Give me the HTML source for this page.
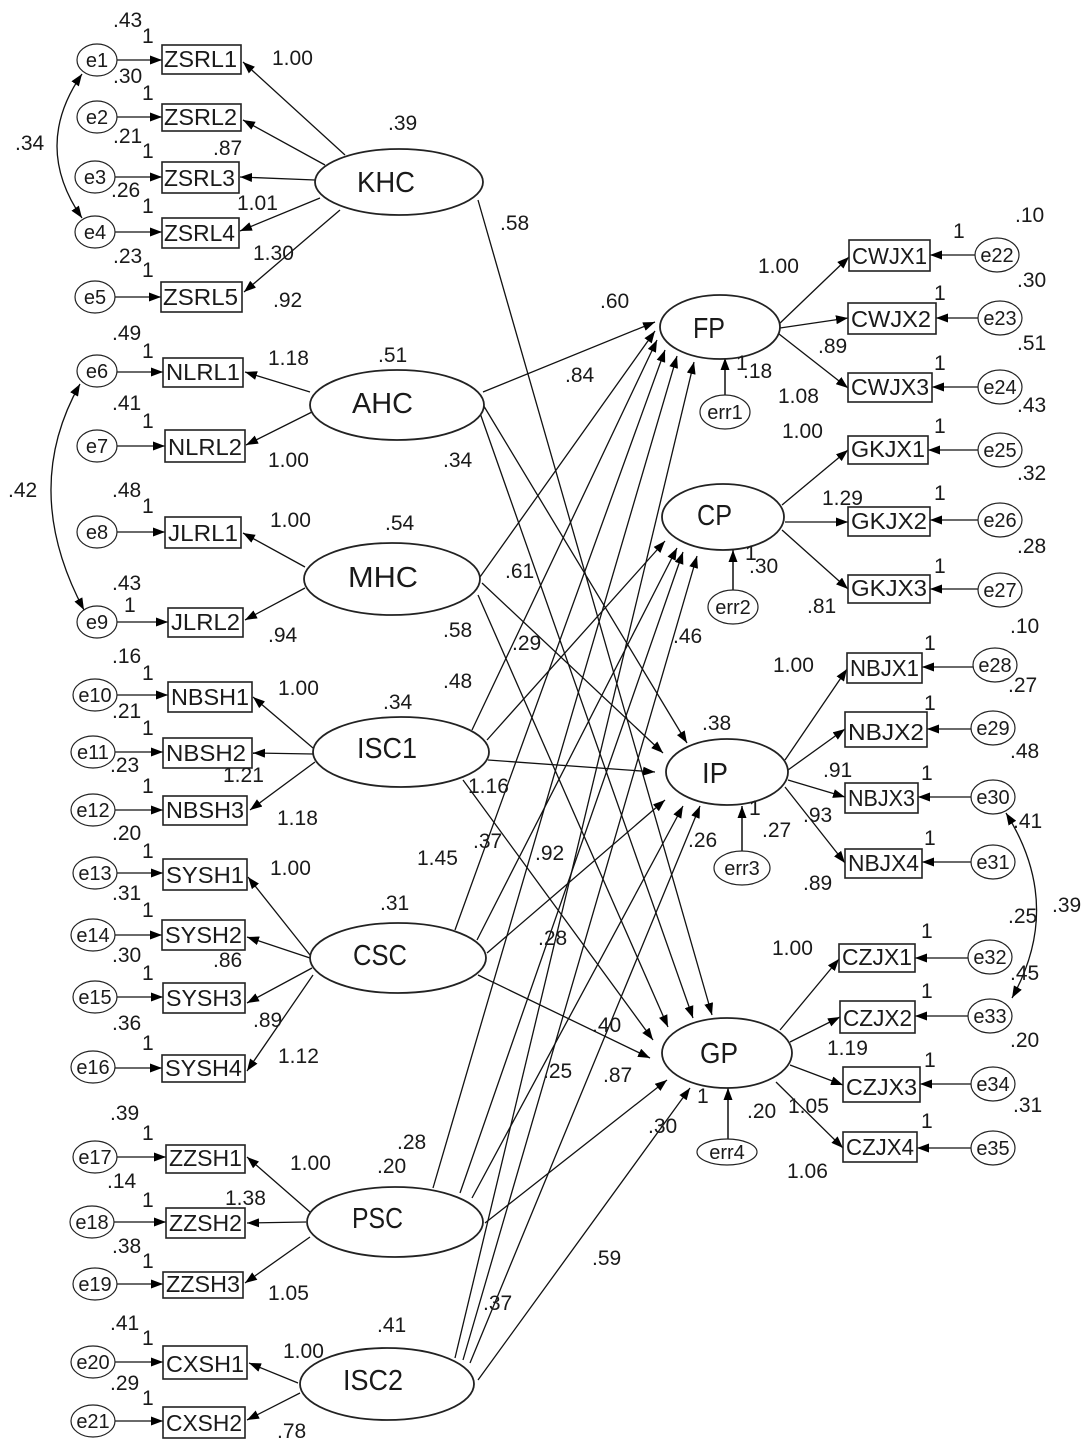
<!DOCTYPE html>
<html><head><meta charset="utf-8"><style>
html,body{margin:0;padding:0;background:#fff;}
svg{display:block;}
text{font-family:"Liberation Sans",Arial,sans-serif;fill:#1a1a1a;}
.n{font-size:21px;}
.b{font-size:23px;}
.L{font-size:29px;}
.e{font-size:20px;}
</style></head><body>
<svg width="1085" height="1444" viewBox="0 0 1085 1444" xmlns="http://www.w3.org/2000/svg">
<defs>
<marker id="a" viewBox="0 0 12 9" refX="12" refY="4.5" markerWidth="12" markerHeight="9" markerUnits="userSpaceOnUse" orient="auto"><path d="M0,0L12,4.5L0,9z" fill="#000"/></marker>
<marker id="s" viewBox="0 0 12 9" refX="12" refY="4.5" markerWidth="12" markerHeight="9" markerUnits="userSpaceOnUse" orient="auto-start-reverse"><path d="M0,0L12,4.5L0,9z" fill="#000"/></marker>
</defs>
<rect width="1085" height="1444" fill="#fff"/>

<!-- Structural paths -->
<g stroke="#111" stroke-width="1.3" fill="none" marker-end="url(#a)">
<line x1="478" y1="200" x2="712" y2="1015"/>
<line x1="483" y1="392" x2="655" y2="322"/>
<line x1="482" y1="403" x2="687" y2="743"/>
<line x1="480" y1="413" x2="693" y2="1018"/>
<line x1="480" y1="577" x2="655" y2="331"/>
<line x1="482" y1="583" x2="663" y2="753"/>
<line x1="478" y1="595" x2="668" y2="1027"/>
<line x1="472" y1="730" x2="657" y2="340"/>
<line x1="487" y1="740" x2="665" y2="541"/>
<line x1="488" y1="760" x2="655" y2="772"/>
<line x1="463" y1="780" x2="653" y2="1040"/>
<line x1="455" y1="930" x2="665" y2="350"/>
<line x1="477" y1="940" x2="677" y2="548"/>
<line x1="487" y1="953" x2="665" y2="800"/>
<line x1="478" y1="975" x2="650" y2="1058"/>
<line x1="433" y1="1188" x2="677" y2="356"/>
<line x1="460" y1="1193" x2="683" y2="552"/>
<line x1="472" y1="1198" x2="683" y2="806"/>
<line x1="485" y1="1223" x2="667" y2="1080"/>
<line x1="455" y1="1358" x2="694" y2="362"/>
<line x1="463" y1="1360" x2="697" y2="556"/>
<line x1="470" y1="1363" x2="700" y2="806"/>
<line x1="478" y1="1380" x2="690" y2="1088"/>
</g>

<!-- Loadings left -->
<g stroke="#111" stroke-width="1.3" fill="none" marker-end="url(#a)">
<line x1="345" y1="155" x2="243" y2="62"/>
<line x1="325" y1="165" x2="243" y2="120"/>
<line x1="315" y1="180" x2="240" y2="177"/>
<line x1="320" y1="198" x2="240" y2="231"/>
<line x1="340" y1="210" x2="244" y2="292"/>
<line x1="310" y1="392" x2="245" y2="372"/>
<line x1="312" y1="412" x2="246" y2="445"/>
<line x1="305" y1="567" x2="243" y2="533"/>
<line x1="305" y1="588" x2="245" y2="620"/>
<line x1="313" y1="748" x2="253" y2="697"/>
<line x1="313" y1="754" x2="253" y2="753"/>
<line x1="315" y1="762" x2="250" y2="810"/>
<line x1="310" y1="955" x2="248" y2="877"/>
<line x1="310" y1="958" x2="247" y2="937"/>
<line x1="312" y1="968" x2="247" y2="1003"/>
<line x1="313" y1="975" x2="247" y2="1071"/>
<line x1="310" y1="1212" x2="247" y2="1157"/>
<line x1="306" y1="1222" x2="247" y2="1223"/>
<line x1="310" y1="1237" x2="245" y2="1283"/>
<line x1="298" y1="1383" x2="249" y2="1363"/>
<line x1="300" y1="1393" x2="247" y2="1420"/>
</g>

<!-- Loadings right -->
<g stroke="#111" stroke-width="1.3" fill="none" marker-end="url(#a)">
<line x1="778" y1="325" x2="849" y2="257"/>
<line x1="780" y1="328" x2="848" y2="318"/>
<line x1="779" y1="334" x2="848" y2="388"/>
<line x1="782" y1="505" x2="848" y2="450"/>
<line x1="785" y1="522" x2="848" y2="522"/>
<line x1="782" y1="530" x2="848" y2="589"/>
<line x1="785" y1="760" x2="847" y2="669"/>
<line x1="788" y1="770" x2="845" y2="729"/>
<line x1="788" y1="780" x2="845" y2="797"/>
<line x1="785" y1="787" x2="845" y2="863"/>
<line x1="780" y1="1030" x2="839" y2="959"/>
<line x1="790" y1="1042" x2="840" y2="1017"/>
<line x1="790" y1="1065" x2="843" y2="1085"/>
<line x1="776" y1="1082" x2="843" y2="1148"/>
</g>

<!-- error arrows left -->
<g stroke="#111" stroke-width="1.3" fill="none" marker-end="url(#a)">
<line x1="117" y1="60" x2="162" y2="60"/>
<line x1="117" y1="117" x2="162" y2="117"/>
<line x1="115" y1="177" x2="162" y2="177"/>
<line x1="115" y1="232" x2="162" y2="232"/>
<line x1="115" y1="297" x2="161" y2="297"/>
<line x1="117" y1="372" x2="163" y2="372"/>
<line x1="117" y1="446" x2="165" y2="446"/>
<line x1="117" y1="532" x2="165" y2="532"/>
<line x1="117" y1="622" x2="168" y2="622"/>
<line x1="117" y1="695" x2="168" y2="695"/>
<line x1="115" y1="752" x2="163" y2="752"/>
<line x1="115" y1="810" x2="163" y2="810"/>
<line x1="117" y1="873" x2="163" y2="873"/>
<line x1="115" y1="935" x2="162" y2="935"/>
<line x1="117" y1="997" x2="163" y2="997"/>
<line x1="115" y1="1068" x2="162" y2="1068"/>
<line x1="117" y1="1157" x2="166" y2="1157"/>
<line x1="114" y1="1222" x2="166" y2="1222"/>
<line x1="117" y1="1284" x2="163" y2="1284"/>
<line x1="115" y1="1362" x2="163" y2="1362"/>
<line x1="115" y1="1421" x2="163" y2="1421"/>
</g>
<!-- error arrows right -->
<g stroke="#111" stroke-width="1.3" fill="none" marker-end="url(#a)">
<line x1="975" y1="255" x2="930" y2="255"/>
<line x1="978" y1="318" x2="936" y2="318"/>
<line x1="978" y1="387" x2="932" y2="387"/>
<line x1="978" y1="450" x2="928" y2="450"/>
<line x1="978" y1="520" x2="930" y2="520"/>
<line x1="978" y1="589" x2="930" y2="589"/>
<line x1="973" y1="667" x2="922" y2="667"/>
<line x1="971" y1="729" x2="927" y2="729"/>
<line x1="971" y1="797" x2="918" y2="797"/>
<line x1="971" y1="862" x2="922" y2="862"/>
<line x1="968" y1="958" x2="915" y2="958"/>
<line x1="968" y1="1016" x2="915" y2="1016"/>
<line x1="971" y1="1084" x2="920" y2="1084"/>
<line x1="971" y1="1148" x2="917" y2="1148"/>
</g>
<!-- err arrows -->
<g stroke="#111" stroke-width="1.5" fill="none" marker-end="url(#a)">
<line x1="725" y1="395" x2="725" y2="358"/>
<line x1="733" y1="590" x2="733" y2="550"/>
<line x1="742" y1="851" x2="742" y2="806"/>
<line x1="728" y1="1139" x2="728" y2="1088"/>
</g>

<!-- covariances -->
<g stroke="#111" stroke-width="1.3" fill="none" marker-start="url(#s)" marker-end="url(#a)">
<path d="M82,74 Q32,146 82,218"/>
<path d="M80,384 Q20,490 84,610"/>
<path d="M1006,813 Q1064,905 1012,998"/>
</g>

<!-- latent ellipses -->
<g fill="#fff" stroke="#222" stroke-width="1.8">
<ellipse cx="399" cy="182" rx="84" ry="33"/>
<ellipse cx="397" cy="405" rx="87" ry="35"/>
<ellipse cx="392" cy="579" rx="88" ry="36"/>
<ellipse cx="401" cy="752" rx="88" ry="35"/>
<ellipse cx="398" cy="958" rx="88" ry="35"/>
<ellipse cx="395" cy="1222" rx="88" ry="35"/>
<ellipse cx="387" cy="1384" rx="87" ry="36"/>
<ellipse cx="720" cy="327" rx="60" ry="32"/>
<ellipse cx="723" cy="517" rx="61" ry="33"/>
<ellipse cx="727" cy="772" rx="61" ry="33"/>
<ellipse cx="727" cy="1053" rx="65" ry="35"/>
</g>
<g class="L">
<text x="357" y="192" textLength="58" lengthAdjust="spacingAndGlyphs">KHC</text>
<text x="352" y="413" textLength="61" lengthAdjust="spacingAndGlyphs">AHC</text>
<text x="348" y="587" textLength="70" lengthAdjust="spacingAndGlyphs">MHC</text>
<text x="357" y="758" textLength="60" lengthAdjust="spacingAndGlyphs">ISC1</text>
<text x="353" y="965" textLength="54" lengthAdjust="spacingAndGlyphs">CSC</text>
<text x="352" y="1228" textLength="51" lengthAdjust="spacingAndGlyphs">PSC</text>
<text x="343" y="1390" textLength="60" lengthAdjust="spacingAndGlyphs">ISC2</text>
<text x="693" y="338" textLength="32" lengthAdjust="spacingAndGlyphs">FP</text>
<text x="697" y="525" textLength="35" lengthAdjust="spacingAndGlyphs">CP</text>
<text x="702" y="783" textLength="26" lengthAdjust="spacingAndGlyphs">IP</text>
<text x="700" y="1063" textLength="38" lengthAdjust="spacingAndGlyphs">GP</text>
</g>

<!-- error ellipses -->
<g fill="#fff" stroke="#222" stroke-width="1.2">
<ellipse cx="97" cy="60" rx="20" ry="16"/>
<ellipse cx="97" cy="117" rx="20" ry="16"/>
<ellipse cx="95" cy="177" rx="20" ry="16"/>
<ellipse cx="95" cy="232" rx="20" ry="16"/>
<ellipse cx="95" cy="297" rx="20" ry="16"/>
<ellipse cx="97" cy="371" rx="20" ry="16"/>
<ellipse cx="97" cy="446" rx="20" ry="16"/>
<ellipse cx="97" cy="532" rx="20" ry="16"/>
<ellipse cx="97" cy="622" rx="20" ry="16"/>
<ellipse cx="95" cy="695" rx="22" ry="16"/>
<ellipse cx="93" cy="752" rx="22" ry="16"/>
<ellipse cx="93" cy="810" rx="22" ry="16"/>
<ellipse cx="95" cy="873" rx="22" ry="16"/>
<ellipse cx="93" cy="935" rx="22" ry="16"/>
<ellipse cx="95" cy="997" rx="22" ry="16"/>
<ellipse cx="93" cy="1067" rx="22" ry="16"/>
<ellipse cx="95" cy="1157" rx="22" ry="16"/>
<ellipse cx="92" cy="1222" rx="22" ry="16"/>
<ellipse cx="95" cy="1284" rx="22" ry="16"/>
<ellipse cx="93" cy="1362" rx="22" ry="16"/>
<ellipse cx="93" cy="1421" rx="22" ry="16"/>
<ellipse cx="997" cy="255" rx="22" ry="17"/>
<ellipse cx="1000" cy="318" rx="22" ry="17"/>
<ellipse cx="1000" cy="387" rx="22" ry="17"/>
<ellipse cx="1000" cy="450" rx="22" ry="17"/>
<ellipse cx="1000" cy="520" rx="22" ry="17"/>
<ellipse cx="1000" cy="590" rx="22" ry="17"/>
<ellipse cx="995" cy="665" rx="22" ry="17"/>
<ellipse cx="993" cy="728" rx="22" ry="17"/>
<ellipse cx="993" cy="797" rx="22" ry="17"/>
<ellipse cx="993" cy="862" rx="22" ry="17"/>
<ellipse cx="990" cy="957" rx="22" ry="17"/>
<ellipse cx="990" cy="1016" rx="22" ry="17"/>
<ellipse cx="993" cy="1084" rx="22" ry="17"/>
<ellipse cx="993" cy="1148" rx="22" ry="17"/>
<ellipse cx="725" cy="412" rx="25" ry="17"/>
<ellipse cx="733" cy="607" rx="25" ry="17"/>
<ellipse cx="742" cy="868" rx="28" ry="17"/>
<ellipse cx="727" cy="1152" rx="30" ry="13"/>
</g>
<g class="e" text-anchor="middle">
<text x="97" y="67">e1</text><text x="97" y="124">e2</text><text x="95" y="184">e3</text><text x="95" y="239">e4</text><text x="95" y="304">e5</text>
<text x="97" y="378">e6</text><text x="97" y="453">e7</text><text x="97" y="539">e8</text><text x="97" y="629">e9</text>
<text x="95" y="702">e10</text><text x="93" y="759">e11</text><text x="93" y="817">e12</text><text x="95" y="880">e13</text><text x="93" y="942">e14</text><text x="95" y="1004">e15</text><text x="93" y="1074">e16</text>
<text x="95" y="1164">e17</text><text x="92" y="1229">e18</text><text x="95" y="1291">e19</text><text x="93" y="1369">e20</text><text x="93" y="1428">e21</text>
<text x="997" y="262">e22</text><text x="1000" y="325">e23</text><text x="1000" y="394">e24</text><text x="1000" y="457">e25</text><text x="1000" y="527">e26</text><text x="1000" y="597">e27</text>
<text x="995" y="672">e28</text><text x="993" y="735">e29</text><text x="993" y="804">e30</text><text x="993" y="869">e31</text>
<text x="990" y="964">e32</text><text x="990" y="1023">e33</text><text x="993" y="1091">e34</text><text x="993" y="1155">e35</text>
<text x="725" y="419">err1</text><text x="733" y="614">err2</text><text x="742" y="875">err3</text><text x="727" y="1159">err4</text>
</g>

<!-- indicator boxes -->
<g fill="#fff" stroke="#222" stroke-width="1.6">
<rect x="162" y="45" width="79" height="29"/>
<rect x="162" y="104" width="79" height="27"/>
<rect x="162" y="162" width="77" height="31"/>
<rect x="162" y="218" width="77" height="30"/>
<rect x="161" y="282" width="81" height="30"/>
<rect x="163" y="358" width="80" height="29"/>
<rect x="165" y="430" width="80" height="32"/>
<rect x="165" y="517" width="76" height="31"/>
<rect x="168" y="608" width="75" height="29"/>
<rect x="168" y="682" width="84" height="30"/>
<rect x="163" y="738" width="89" height="30"/>
<rect x="163" y="796" width="84" height="29"/>
<rect x="163" y="859" width="84" height="31"/>
<rect x="162" y="920" width="83" height="30"/>
<rect x="163" y="983" width="82" height="30"/>
<rect x="162" y="1055" width="83" height="27"/>
<rect x="166" y="1145" width="79" height="28"/>
<rect x="166" y="1208" width="79" height="30"/>
<rect x="163" y="1272" width="80" height="26"/>
<rect x="163" y="1346" width="84" height="33"/>
<rect x="163" y="1407" width="82" height="31"/>
<rect x="849" y="240" width="81" height="31"/>
<rect x="848" y="303" width="88" height="31"/>
<rect x="848" y="373" width="84" height="29"/>
<rect x="848" y="436" width="80" height="28"/>
<rect x="848" y="507" width="82" height="29"/>
<rect x="848" y="575" width="82" height="28"/>
<rect x="847" y="653" width="75" height="30"/>
<rect x="845" y="712" width="82" height="35"/>
<rect x="845" y="783" width="73" height="30"/>
<rect x="845" y="849" width="77" height="29"/>
<rect x="839" y="944" width="76" height="28"/>
<rect x="840" y="1001" width="75" height="32"/>
<rect x="843" y="1067" width="77" height="35"/>
<rect x="843" y="1132" width="74" height="30"/>
</g>
<g class="b">
<text x="164" y="67" textLength="73" lengthAdjust="spacingAndGlyphs">ZSRL1</text>
<text x="164" y="125" textLength="73" lengthAdjust="spacingAndGlyphs">ZSRL2</text>
<text x="164" y="186" textLength="71" lengthAdjust="spacingAndGlyphs">ZSRL3</text>
<text x="164" y="241" textLength="71" lengthAdjust="spacingAndGlyphs">ZSRL4</text>
<text x="163" y="305" textLength="75" lengthAdjust="spacingAndGlyphs">ZSRL5</text>
<text x="166" y="380" textLength="74" lengthAdjust="spacingAndGlyphs">NLRL1</text>
<text x="168" y="455" textLength="74" lengthAdjust="spacingAndGlyphs">NLRL2</text>
<text x="168" y="541" textLength="70" lengthAdjust="spacingAndGlyphs">JLRL1</text>
<text x="171" y="630" textLength="69" lengthAdjust="spacingAndGlyphs">JLRL2</text>
<text x="171" y="705" textLength="78" lengthAdjust="spacingAndGlyphs">NBSH1</text>
<text x="166" y="761" textLength="80" lengthAdjust="spacingAndGlyphs">NBSH2</text>
<text x="166" y="818" textLength="78" lengthAdjust="spacingAndGlyphs">NBSH3</text>
<text x="166" y="883" textLength="78" lengthAdjust="spacingAndGlyphs">SYSH1</text>
<text x="165" y="943" textLength="77" lengthAdjust="spacingAndGlyphs">SYSH2</text>
<text x="166" y="1006" textLength="76" lengthAdjust="spacingAndGlyphs">SYSH3</text>
<text x="165" y="1076" textLength="77" lengthAdjust="spacingAndGlyphs">SYSH4</text>
<text x="169" y="1166" textLength="73" lengthAdjust="spacingAndGlyphs">ZZSH1</text>
<text x="169" y="1231" textLength="73" lengthAdjust="spacingAndGlyphs">ZZSH2</text>
<text x="166" y="1292" textLength="74" lengthAdjust="spacingAndGlyphs">ZZSH3</text>
<text x="166" y="1372" textLength="78" lengthAdjust="spacingAndGlyphs">CXSH1</text>
<text x="166" y="1431" textLength="76" lengthAdjust="spacingAndGlyphs">CXSH2</text>
<text x="852" y="264" textLength="75" lengthAdjust="spacingAndGlyphs">CWJX1</text>
<text x="851" y="327" textLength="80" lengthAdjust="spacingAndGlyphs">CWJX2</text>
<text x="851" y="395" textLength="78" lengthAdjust="spacingAndGlyphs">CWJX3</text>
<text x="851" y="457" textLength="74" lengthAdjust="spacingAndGlyphs">GKJX1</text>
<text x="851" y="529" textLength="76" lengthAdjust="spacingAndGlyphs">GKJX2</text>
<text x="851" y="596" textLength="76" lengthAdjust="spacingAndGlyphs">GKJX3</text>
<text x="850" y="676" textLength="69" lengthAdjust="spacingAndGlyphs">NBJX1</text>
<text x="848" y="740" textLength="76" lengthAdjust="spacingAndGlyphs">NBJX2</text>
<text x="848" y="806" textLength="67" lengthAdjust="spacingAndGlyphs">NBJX3</text>
<text x="848" y="871" textLength="71" lengthAdjust="spacingAndGlyphs">NBJX4</text>
<text x="842" y="965" textLength="70" lengthAdjust="spacingAndGlyphs">CZJX1</text>
<text x="843" y="1026" textLength="69" lengthAdjust="spacingAndGlyphs">CZJX2</text>
<text x="846" y="1095" textLength="71" lengthAdjust="spacingAndGlyphs">CZJX3</text>
<text x="846" y="1155" textLength="68" lengthAdjust="spacingAndGlyphs">CZJX4</text>
</g>

<!-- numeric labels -->
<g class="n">
<text x="113" y="27">.43</text><text x="142" y="43">1</text>
<text x="113" y="83">.30</text><text x="142" y="100">1</text>
<text x="113" y="143">.21</text><text x="142" y="158">1</text>
<text x="111" y="197">.26</text><text x="142" y="213">1</text>
<text x="113" y="263">.23</text><text x="142" y="277">1</text>
<text x="15" y="150">.34</text>
<text x="272" y="65">1.00</text>
<text x="213" y="155">.87</text>
<text x="237" y="210">1.01</text>
<text x="253" y="260">1.30</text>
<text x="273" y="307">.92</text>
<text x="388" y="130">.39</text>
<text x="500" y="230">.58</text>
<text x="112" y="340">.49</text><text x="142" y="358">1</text>
<text x="112" y="410">.41</text><text x="142" y="428">1</text>
<text x="112" y="497">.48</text><text x="142" y="513">1</text>
<text x="112" y="590">.43</text><text x="124" y="612">1</text>
<text x="8" y="497">.42</text>
<text x="268" y="365">1.18</text>
<text x="268" y="467">1.00</text>
<text x="270" y="527">1.00</text>
<text x="268" y="642">.94</text>
<text x="378" y="362">.51</text>
<text x="385" y="530">.54</text>
<text x="443" y="467">.34</text>
<text x="443" y="637">.58</text>
<text x="600" y="308">.60</text>
<text x="565" y="382">.84</text>
<text x="505" y="578">.61</text>
<text x="512" y="650">.29</text>
<text x="673" y="643">.46</text>
<text x="443" y="688">.48</text>
<text x="383" y="709">.34</text>
<text x="702" y="730">.38</text>
<text x="468" y="793">1.16</text>
<text x="473" y="848">.37</text>
<text x="417" y="865">1.45</text>
<text x="535" y="860">.92</text>
<text x="688" y="847">.26</text>
<text x="380" y="910">.31</text>
<text x="538" y="945">.28</text>
<text x="592" y="1032">.40</text>
<text x="543" y="1078">.25</text>
<text x="603" y="1082">.87</text>
<text x="648" y="1133">.30</text>
<text x="592" y="1265">.59</text>
<text x="483" y="1310">.37</text>
<text x="397" y="1149">.28</text>
<text x="377" y="1173">.20</text>
<text x="377" y="1332">.41</text>
<text x="112" y="663">.16</text><text x="142" y="680">1</text>
<text x="112" y="718">.21</text><text x="142" y="735">1</text>
<text x="110" y="772">.23</text><text x="142" y="793">1</text>
<text x="112" y="840">.20</text><text x="142" y="858">1</text>
<text x="112" y="900">.31</text><text x="142" y="917">1</text>
<text x="112" y="962">.30</text><text x="142" y="980">1</text>
<text x="112" y="1030">.36</text><text x="142" y="1050">1</text>
<text x="278" y="695">1.00</text>
<text x="223" y="782">1.21</text>
<text x="277" y="825">1.18</text>
<text x="270" y="875">1.00</text>
<text x="213" y="967">.86</text>
<text x="253" y="1027">.89</text>
<text x="278" y="1063">1.12</text>
<text x="110" y="1120">.39</text><text x="142" y="1140">1</text>
<text x="107" y="1188">.14</text><text x="142" y="1207">1</text>
<text x="112" y="1253">.38</text><text x="142" y="1268">1</text>
<text x="110" y="1330">.41</text><text x="142" y="1345">1</text>
<text x="110" y="1390">.29</text><text x="142" y="1405">1</text>
<text x="290" y="1170">1.00</text>
<text x="225" y="1205">1.38</text>
<text x="268" y="1300">1.05</text>
<text x="283" y="1358">1.00</text>
<text x="277" y="1438">.78</text>

<text x="1015" y="222">.10</text><text x="953" y="238">1</text>
<text x="1017" y="287">.30</text><text x="934" y="300">1</text>
<text x="1017" y="350">.51</text><text x="934" y="370">1</text>
<text x="1017" y="412">.43</text><text x="934" y="433">1</text>
<text x="1017" y="480">.32</text><text x="934" y="500">1</text>
<text x="1017" y="553">.28</text><text x="934" y="573">1</text>
<text x="758" y="273">1.00</text>
<text x="818" y="353">.89</text>
<text x="736" y="370">1</text><text x="743" y="378">.18</text>
<text x="778" y="403">1.08</text>
<text x="782" y="438">1.00</text>
<text x="822" y="505">1.29</text>
<text x="745" y="560">1</text><text x="749" y="573">.30</text>
<text x="807" y="613">.81</text>
<text x="1010" y="633">.10</text><text x="924" y="650">1</text>
<text x="1008" y="692">.27</text><text x="924" y="710">1</text>
<text x="1010" y="758">.48</text><text x="921" y="780">1</text>
<text x="1013" y="828">.41</text><text x="924" y="845">1</text>
<text x="773" y="672">1.00</text>
<text x="823" y="777">.91</text>
<text x="803" y="822">.93</text>
<text x="803" y="890">.89</text>
<text x="749" y="815">1</text><text x="762" y="837">.27</text>
<text x="1052" y="912">.39</text>
<text x="1008" y="923">.25</text>
<text x="921" y="938">1</text>
<text x="1010" y="980">.45</text>
<text x="921" y="998">1</text>
<text x="1010" y="1047">.20</text>
<text x="924" y="1067">1</text>
<text x="1013" y="1112">.31</text>
<text x="921" y="1128">1</text>
<text x="772" y="955">1.00</text>
<text x="827" y="1055">1.19</text>
<text x="788" y="1113">1.05</text>
<text x="787" y="1178">1.06</text>
<text x="697" y="1103">1</text>
<text x="747" y="1118">.20</text>
</g>
</svg>
</body></html>
